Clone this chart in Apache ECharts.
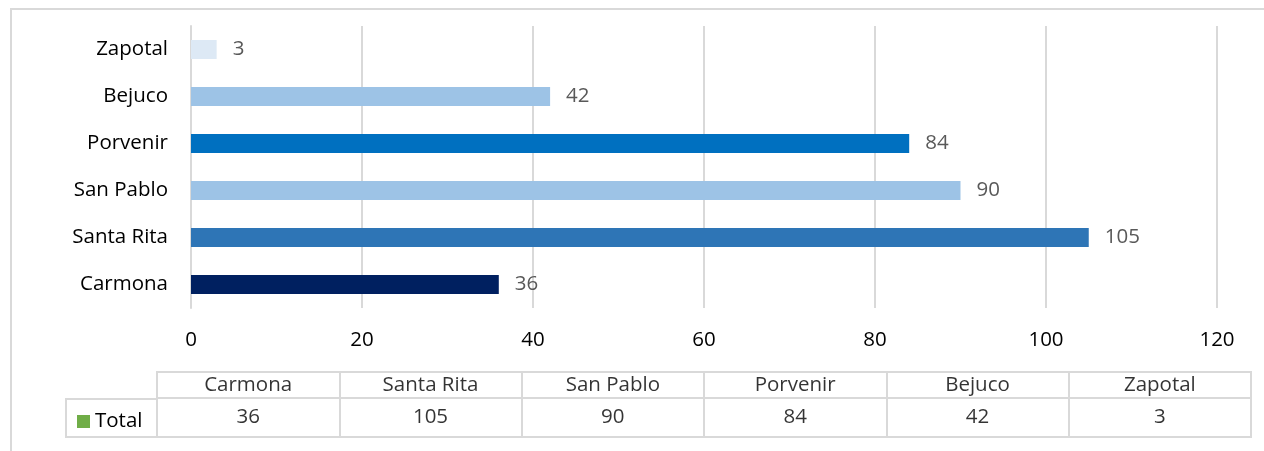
<!DOCTYPE html>
<html>
<head>
<meta charset="utf-8">
<title>Total por comunidad</title>
<script src="https://cdn.jsdelivr.net/npm/echarts@6/dist/echarts.min.js"></script>
<style>
  html, body { margin: 0; padding: 0; background: #ffffff; }
  #chart { width: 1264px; height: 451px; }
</style>
</head>
<body>
<div id="chart"></div>
<script>
// Communities, bottom to top on the bar chart and left to right in the table
const categories = ['Carmona', 'Santa Rita', 'San Pablo', 'Porvenir', 'Bejuco', 'Zapotal'];
const totals = [36, 105, 90, 84, 42, 3];
const barColors = ['#002060', '#2e75b6', '#9dc3e6', '#0070c0', '#9dc3e6', '#dde9f5'];
const xTicks = { min: 0, max: 120, interval: 20 };
const seriesName = 'Total';
const legendColor = '#70ad47';

const FONT = '"Open Sans", "Noto Sans", sans-serif';
const FONT_SIZE = 20.5;
const GRID_LINE = '#d9d9d9';

const chart = echarts.init(document.getElementById('chart'), null, { renderer: 'canvas' });

// Table rows: the header row sits in y 39..65, the values row in 0..39
const headerPoints = categories.map((c) => ({ value: [c, 52], label: { formatter: c } }));
const valuePoints = categories.map((c, i) => ({ value: [c, 19.5], label: { formatter: String(totals[i]) } }));

const option = {
  backgroundColor: '#ffffff',
  animation: false,
  textStyle: { fontFamily: FONT },
  grid: [
    { left: 191, right: 47, top: 26, height: 282, containLabel: false },
    {
      left: 157, right: 13, top: 372, height: 65,
      show: true, borderColor: GRID_LINE, borderWidth: 2, backgroundColor: 'transparent'
    }
  ],
  xAxis: [
    {
      gridIndex: 0,
      type: 'value',
      min: xTicks.min, max: xTicks.max, interval: xTicks.interval,
      axisLine: { show: false },
      axisTick: { show: false },
      axisLabel: { color: '#000000', fontSize: FONT_SIZE, margin: 22, fontFamily: FONT },
      splitLine: { show: true, lineStyle: { color: GRID_LINE, width: 2 } }
    },
    {
      gridIndex: 1,
      type: 'category',
      data: categories,
      boundaryGap: true,
      axisLine: { show: false },
      axisTick: { show: false },
      axisLabel: { show: false },
      splitLine: { show: true, lineStyle: { color: GRID_LINE, width: 2 } }
    }
  ],
  yAxis: [
    {
      gridIndex: 0,
      type: 'category',
      data: categories,
      axisLine: { show: true, lineStyle: { color: GRID_LINE, width: 2 } },
      axisTick: { show: false },
      axisLabel: { color: '#000000', fontSize: FONT_SIZE, margin: 23, fontFamily: FONT },
      splitLine: { show: false }
    },
    {
      gridIndex: 1,
      type: 'value',
      min: 0, max: 65,
      show: false,
      splitLine: { show: false }
    }
  ],
  legend: {
    show: true,
    data: [seriesName],
    left: 72,
    top: 406,
    icon: 'rect',
    itemWidth: 13,
    itemHeight: 13,
    textStyle: { color: '#000000', fontSize: FONT_SIZE, fontFamily: FONT },
    selectedMode: false
  },
  series: [
    {
      name: seriesName,
      type: 'bar',
      xAxisIndex: 0,
      yAxisIndex: 0,
      color: legendColor,
      barWidth: 19,
      data: totals.map((v, i) => ({ value: v, itemStyle: { color: barColors[i] } })),
      label: {
        show: true,
        position: 'right',
        distance: 16,
        color: '#595959',
        fontSize: FONT_SIZE,
        fontFamily: FONT
      }
    },
    {
      name: 'tabla',
      type: 'scatter',
      xAxisIndex: 1,
      yAxisIndex: 1,
      symbolSize: 0,
      silent: true,
      data: headerPoints.concat(valuePoints),
      label: {
        show: true,
        position: 'inside',
        color: '#000000',
        fontSize: FONT_SIZE,
        fontFamily: FONT
      },
      markLine: {
        silent: true,
        symbol: ['none', 'none'],
        label: { show: false },
        lineStyle: { color: GRID_LINE, width: 2, type: 'solid' },
        data: [{ yAxis: 39 }]
      }
    }
  ],
  graphic: [
    {
      // outer chart frame
      type: 'rect',
      shape: { x: 11, y: 9, width: 1270, height: 460 },
      style: { fill: 'none', stroke: GRID_LINE, lineWidth: 2 },
      silent: true,
      z: -10
    },
    {
      // legend key cell of the data table
      type: 'rect',
      shape: { x: 66, y: 399, width: 91, height: 38 },
      style: { fill: 'none', stroke: GRID_LINE, lineWidth: 2 },
      silent: true
    }
  ]
};

chart.setOption(option);
</script>
</body>
</html>
